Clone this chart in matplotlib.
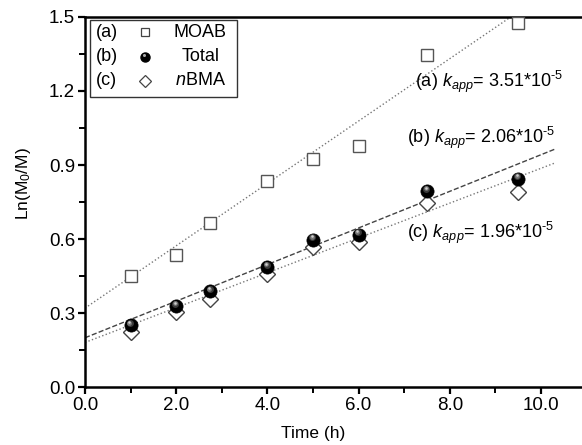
import numpy as np
import matplotlib
matplotlib.use("Agg")
import matplotlib.pyplot as plt
from matplotlib.patches import Rectangle
from matplotlib import transforms

plt.rcParams['font.family'] = ['Liberation Sans', 'DejaVu Sans']
plt.rcParams['mathtext.fontset'] = 'custom'
plt.rcParams['mathtext.rm'] = 'Liberation Sans'
plt.rcParams['mathtext.it'] = 'Liberation Sans:italic'

# Reaction time (h)
time_h = [1.0, 2.0, 2.75, 4.0, 5.0, 6.0, 7.5, 9.5]
# ln(M0/M) for each monomer
moab = [0.45, 0.535, 0.665, 0.835, 0.925, 0.975, 1.345, 1.475]
total = [0.25, 0.328, 0.388, 0.487, 0.598, 0.618, 0.795, 0.845]
nbma = [0.225, 0.303, 0.357, 0.458, 0.568, 0.588, 0.745, 0.792]

# Apparent rate constants (s^-1) and fit intercepts
k_app = {'a': 3.51e-5, 'b': 2.06e-5, 'c': 1.96e-5}
intercepts = {'a': 0.32, 'b': 0.20, 'c': 0.181}
fit_end = 10.3

fig = plt.figure(figsize=(5.82, 4.45), dpi=100)
ax = fig.add_axes([0.146, 0.130, 0.854, 0.832])

# Linear fits: slope in h^-1 is k_app * 3600
xfit = np.linspace(0, fit_end, 50)
for key, ls, col in [('a', ':', '#777777'), ('b', '--', '#444444'), ('c', ':', '#777777')]:
    ax.plot(xfit, intercepts[key] + k_app[key] * 3600 * xfit,
            ls=ls, color=col, lw=1.0, zorder=1)

ax.plot(time_h, moab, ls='none', marker='s', ms=8.6, mfc='white',
        mec='#555555', mew=1.0, zorder=3)
ax.plot(time_h, nbma, ls='none', marker='D', ms=8.5, mfc='white',
        mec='#444444', mew=1.0, zorder=3)

# Shaded spheres for the total conversion
ax.plot(time_h, total, ls='none', marker='o', ms=9.5, mfc='black',
        mec='black', mew=0.5, zorder=4)
for dx, dy, size, shade in [(-0.6, 1.6, 5.0, '#3a3a3a'), (-0.8, 2.0, 3.4, '#777777'),
                            (-0.9, 2.3, 1.8, '#cfcfcf')]:
    tr = transforms.offset_copy(ax.transData, fig=fig, x=dx, y=dy, units='points')
    ax.plot(time_h, total, ls='none', marker='o', ms=size, mfc=shade,
            mec='none', transform=tr, zorder=5)

ax.set_xlim(0, 10.9)
ax.set_ylim(0, 1.5)
ax.set_xticks([0, 2, 4, 6, 8, 10])
ax.set_xticklabels(['0.0', '2.0', '4.0', '6.0', '8.0', '10.0'])
ax.set_xticks([1, 3, 5, 7, 9], minor=True)
ax.set_yticks([0, 0.3, 0.6, 0.9, 1.2, 1.5])
ax.set_yticklabels(['0.0', '0.3', '0.6', '0.9', '1.2', '1.5'])
ax.set_yticks([0.15, 0.45, 0.75, 1.05, 1.35], minor=True)

ax.spines['right'].set_visible(False)
for s in ['left', 'bottom', 'top']:
    ax.spines[s].set_linewidth(1.8)
ax.tick_params(which='major', direction='out', length=5, width=1.6,
               labelsize=13.5, pad=2)
ax.tick_params(which='minor', direction='out', length=4, width=1.4)
ax.tick_params(axis='x', which='both', top=False)

ax.set_xlabel('Time (h)', fontsize=12.5)
ax.xaxis.set_label_coords(0.459, -0.105)
ax.set_ylabel('Ln(M$_0$/M)', fontsize=12.5)
ax.yaxis.set_label_coords(-0.105, 0.55)

# Rate constant annotations
ann = [('a', 7.24, 1.235), ('b', 7.07, 1.01), ('c', 7.07, 0.625)]
for key, xt, yt in ann:
    mant = k_app[key] / 1e-5
    ax.text(xt, yt, '(%s) $k_{app}$= %.2f*10$^{\\text{-5}}$' % (key, mant),
            fontsize=13, ha='left', va='center', clip_on=False)

# Legend box
ax.add_patch(Rectangle((0.010, 0.784), 0.296, 0.208, transform=ax.transAxes,
                       fill=False, ec='#333333', lw=1.0, zorder=6))
rows = [('(a)', 's', 'MOAB', 0.958), ('(b)', 'o', 'Total', 0.893), ('(c)', 'D', '$\\mathit{n}$BMA', 0.828)]
for tag, mk, name, yy in rows:
    ax.text(0.022, yy, tag, transform=ax.transAxes, fontsize=13, va='center', ha='left')
    if mk == 'o':
        ax.plot([0.121], [yy], marker='o', ms=6.5, mfc='black', mec='black',
                transform=ax.transAxes, clip_on=False)
        tr = transforms.offset_copy(ax.transAxes, fig=fig, x=-0.5, y=1.2, units='points')
        ax.plot([0.121], [yy], marker='o', ms=2.2, mfc='#aaaaaa', mec='none',
                transform=tr, clip_on=False)
    else:
        ax.plot([0.121], [yy], marker=mk, ms=6.0, mfc='white',
                mec='#444444', mew=0.9, transform=ax.transAxes, clip_on=False)
    ax.text(0.232, yy, name, transform=ax.transAxes, fontsize=13, va='center', ha='center')

fig.savefig('out.png', dpi=100)
